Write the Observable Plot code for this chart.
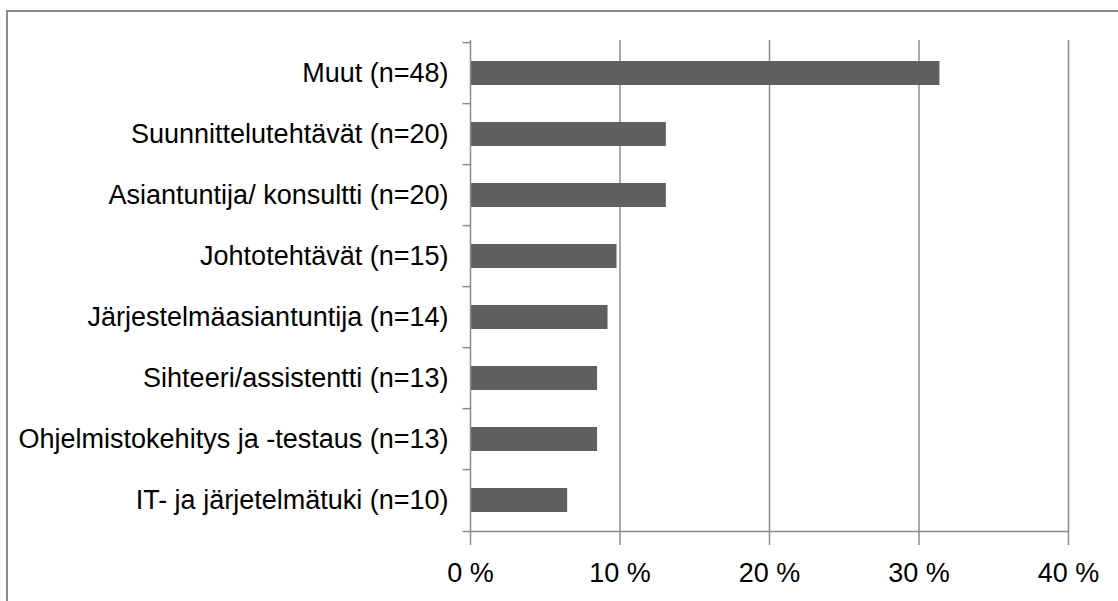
<!DOCTYPE html>
<html>
<head>
<meta charset="utf-8">
<script src="https://cdn.jsdelivr.net/npm/d3@7"></script>
<script src="https://cdn.jsdelivr.net/npm/@observablehq/plot@0.6"></script>
<style>
  html, body { margin: 0; padding: 0; background: #fff; overflow: hidden; }
  #wrap { position: relative; width: 1118px; height: 601px; }
  #frame { position: absolute; left: 6px; top: 10px; width: 1200px; height: 700px;
           border: 2px solid #8c8c8c; box-sizing: border-box; pointer-events: none; }
</style>
</head>
<body>
<div id="wrap"><div id="frame"></div></div>
<script>
const categories = [
  "Muut (n=48)",
  "Suunnittelutehtävät (n=20)",
  "Asiantuntija/ konsultti (n=20)",
  "Johtotehtävät (n=15)",
  "Järjestelmäasiantuntija (n=14)",
  "Sihteeri/assistentti (n=13)",
  "Ohjelmistokehitys ja -testaus (n=13)",
  "IT- ja järjetelmätuki (n=10)"
];
const shares = [31.4, 13.1, 13.1, 9.8, 9.2, 8.5, 8.5, 6.5];
const xTicks = [0, 10, 20, 30, 40];

const data = categories.map((c, i) => ({category: c, share: shares[i]}));

const W = 1118, H = 601, mT = 40, mB = 67;
const step = (H - mT - mB) / categories.length;
const font = "'Liberation Sans Narrow', 'Arial Narrow', 'Liberation Sans', Arial, sans-serif";
const gray = "#8c8c8c";

const chart = Plot.plot({
  width: W,
  height: H,
  marginLeft: 470,
  marginRight: 50,
  marginTop: mT,
  marginBottom: mB,
  style: {fontFamily: font, fontSize: "27px", color: "#000", background: "transparent"},
  x: {domain: [0, 40]},
  y: {domain: categories, paddingInner: 0.6, paddingOuter: 0.3},
  marks: [
    Plot.gridX(xTicks.slice(1), {stroke: gray, strokeOpacity: 1, strokeWidth: 1.5}),
    Plot.barX(data, {y: "category", x: "share", fill: "#5f5f5f"}),
    // left axis line
    Plot.ruleX([0], {stroke: gray, strokeWidth: 1.5}),
    // bottom axis line, extended a little to the left
    Plot.ruleY([categories[categories.length - 1]], {x1: -0.5, x2: 40, dy: step / 2, stroke: gray, strokeWidth: 1.5}),
    // category boundary ticks
    Plot.ruleY(categories, {x1: -0.5, x2: 0, dy: -step / 2, stroke: gray, strokeWidth: 1.5}),
    Plot.axisX(xTicks, {
      tickSize: 11, tickPadding: 17, stroke: gray, strokeWidth: 1.5,
      tickFormat: d => `${d} %`, fontSize: 27, label: null
    }),
    Plot.axisY({tickSize: 0, tickPadding: 22, fontSize: 27, label: null})
  ]
});
document.getElementById("wrap").prepend(chart);
</script>
</body>
</html>
